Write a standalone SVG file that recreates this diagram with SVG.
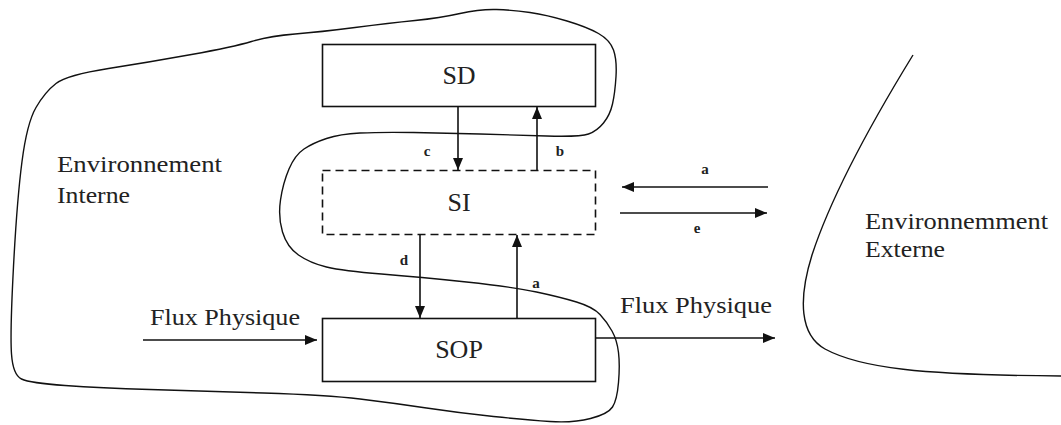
<svg xmlns="http://www.w3.org/2000/svg" width="1061" height="425" viewBox="0 0 1061 425">
<style>
.box{fill:none;stroke:#111;stroke-width:1.6}
.dash{fill:none;stroke:#111;stroke-width:1.6;stroke-dasharray:8 5}
.env{fill:none;stroke:#111;stroke-width:1.4;stroke-linejoin:round}
.lbl{font-family:"Liberation Serif","Times New Roman",serif;font-size:26px;fill:#222;text-anchor:middle}
.txt{font-family:"Liberation Serif","Times New Roman",serif;font-size:24px;fill:#222}
.sm{font-family:"Liberation Serif","Times New Roman",serif;font-size:15px;font-weight:bold;fill:#222;text-anchor:middle}
.arr{fill:none;stroke:#111;stroke-width:1.6;marker-end:url(#ah)}
</style>
<defs>
<marker id="ah" markerUnits="userSpaceOnUse" markerWidth="13" markerHeight="11" refX="12" refY="5" orient="auto">
<path d="M0,0 L12,5 L0,10 Z" fill="#111"/>
</marker>
</defs>
<rect width="1061" height="425" fill="#fff"/>
<g id="env-interne">
<path class="env" d="M56,83.5 Q67,75 108.5,68.5 Q150,62 191.5,54.5 Q233,47 251.5,41.5 Q270,36 295,34 Q320,32 355,27.5 Q390,23 415,20.5 Q440,18 460,13.5 Q480,9 496.5,9.5 Q513,10 530,12.5 Q547,15 567,21 Q587,27 598.5,33.5 Q610,40 613.5,50 Q617,60 616,76.5 Q615,93 612.5,104 Q610,115 603.5,123 Q597,131 588.5,134 Q580,137 546.5,136 Q513,135 480,134 Q447,133 413.5,132.5 Q380,132 360,133 Q340,134 326.5,138.5 Q313,143 304,149 Q295,155 289,169 Q283,183 280.5,200 Q278,217 282.5,232 Q287,247 298.5,255 Q310,263 326.5,267 Q343,271 381.5,274 Q420,277 466.5,282 Q513,287 536.5,292 Q560,297 576.5,302 Q593,307 600,314.5 Q607,322 612,331 Q617,340 618.5,352.5 Q620,365 618.5,382.5 Q617,400 612.5,407 Q608,414 590.5,418.5 Q573,423 550,421.5 Q527,420 493.5,416.5 Q460,413 426.5,408 Q393,403 360,399 Q327,395 263.5,393 Q200,391 150,389.5 Q100,388 65,385.5 Q30,383 21.5,379 Q13,375 11.5,354 Q10,333 13.5,266.5 Q17,200 22,161.5 Q27,123 36,107.5 Q45,92 56,83.5 Z"/>
<text class="txt" x="57" y="172" textLength="165" lengthAdjust="spacingAndGlyphs">Environnement</text>
<text class="txt" x="57" y="203" textLength="73" lengthAdjust="spacingAndGlyphs">Interne</text>
</g>
<g id="env-externe">
<path class="env" d="M913,55 C870,125 830,200 812,255 C798,300 800,335 825,349 C860,368 920,375 1061,376"/>
<text class="txt" x="865" y="229" textLength="183" lengthAdjust="spacingAndGlyphs">Environnemment</text>
<text class="txt" x="865" y="257" textLength="80" lengthAdjust="spacingAndGlyphs">Externe</text>
</g>
<g id="SD">
<rect class="box" x="322.5" y="44.5" width="273" height="62"/>
<text class="lbl" x="459" y="84">SD</text>
</g>
<g id="SI">
<rect class="dash" x="322.5" y="170.5" width="273" height="64"/>
<text class="lbl" x="459" y="211">SI</text>
</g>
<g id="SOP">
<rect class="box" x="322.5" y="318.5" width="273" height="63"/>
<text class="lbl" x="459" y="358">SOP</text>
</g>
<g id="connectors">
<line class="arr" x1="458" y1="107" x2="458" y2="170"/>
<line class="arr" x1="537" y1="170" x2="537" y2="107"/>
<line class="arr" x1="420" y1="235" x2="420" y2="318"/>
<line class="arr" x1="517" y1="318" x2="517" y2="235"/>
<line class="arr" x1="768" y1="187" x2="622" y2="187"/>
<line class="arr" x1="620" y1="213" x2="767" y2="213"/>
<line class="arr" x1="143" y1="340" x2="317" y2="340"/>
<line class="arr" x1="596" y1="338" x2="775" y2="338"/>
<text class="sm" x="427" y="156">c</text>
<text class="sm" x="560" y="156">b</text>
<text class="sm" x="404" y="265">d</text>
<text class="sm" x="536" y="288">a</text>
<text class="sm" x="705" y="174">a</text>
<text class="sm" x="697" y="233">e</text>
<text class="txt" x="150" y="325" textLength="150" lengthAdjust="spacingAndGlyphs">Flux Physique</text>
<text class="txt" x="620" y="313" textLength="152" lengthAdjust="spacingAndGlyphs">Flux Physique</text>
</g>
</svg>
